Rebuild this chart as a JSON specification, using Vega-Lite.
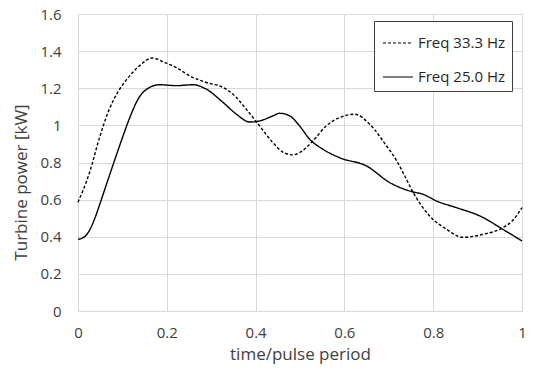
{
  "$schema": "https://vega.github.io/schema/vega-lite/v6.json",
  "width": 444,
  "height": 297,
  "autosize": "none",
  "padding": {"left": 78, "top": 14, "right": 11, "bottom": 62},
  "background": "white",
  "config": {
    "font": "Open Sans",
    "view": {"stroke": null},
    "axis": {
      "gridColor": "#d9d9d9",
      "gridWidth": 1,
      "domainColor": "#d9d9d9",
      "ticks": false,
      "labelColor": "#404040",
      "titleColor": "#404040",
      "labelFontSize": 15,
      "titleFontSize": 17,
      "titleFontWeight": "normal"
    }
  },
  "data": {
    "values": [
      {"t": 0, "p": 0.586, "s": "Freq 33.3 Hz"},
      {"t": 0.013, "p": 0.66, "s": "Freq 33.3 Hz"},
      {"t": 0.026, "p": 0.746, "s": "Freq 33.3 Hz"},
      {"t": 0.048, "p": 0.93, "s": "Freq 33.3 Hz"},
      {"t": 0.071, "p": 1.09, "s": "Freq 33.3 Hz"},
      {"t": 0.09, "p": 1.18, "s": "Freq 33.3 Hz"},
      {"t": 0.109, "p": 1.245, "s": "Freq 33.3 Hz"},
      {"t": 0.139, "p": 1.322, "s": "Freq 33.3 Hz"},
      {"t": 0.167, "p": 1.363, "s": "Freq 33.3 Hz"},
      {"t": 0.199, "p": 1.335, "s": "Freq 33.3 Hz"},
      {"t": 0.222, "p": 1.311, "s": "Freq 33.3 Hz"},
      {"t": 0.252, "p": 1.266, "s": "Freq 33.3 Hz"},
      {"t": 0.289, "p": 1.231, "s": "Freq 33.3 Hz"},
      {"t": 0.327, "p": 1.204, "s": "Freq 33.3 Hz"},
      {"t": 0.349, "p": 1.168, "s": "Freq 33.3 Hz"},
      {"t": 0.379, "p": 1.087, "s": "Freq 33.3 Hz"},
      {"t": 0.409, "p": 0.997, "s": "Freq 33.3 Hz"},
      {"t": 0.439, "p": 0.907, "s": "Freq 33.3 Hz"},
      {"t": 0.462, "p": 0.855, "s": "Freq 33.3 Hz"},
      {"t": 0.484, "p": 0.841, "s": "Freq 33.3 Hz"},
      {"t": 0.499, "p": 0.853, "s": "Freq 33.3 Hz"},
      {"t": 0.529, "p": 0.916, "s": "Freq 33.3 Hz"},
      {"t": 0.559, "p": 0.997, "s": "Freq 33.3 Hz"},
      {"t": 0.589, "p": 1.042, "s": "Freq 33.3 Hz"},
      {"t": 0.623, "p": 1.06, "s": "Freq 33.3 Hz"},
      {"t": 0.657, "p": 1.006, "s": "Freq 33.3 Hz"},
      {"t": 0.695, "p": 0.889, "s": "Freq 33.3 Hz"},
      {"t": 0.717, "p": 0.812, "s": "Freq 33.3 Hz"},
      {"t": 0.736, "p": 0.727, "s": "Freq 33.3 Hz"},
      {"t": 0.755, "p": 0.638, "s": "Freq 33.3 Hz"},
      {"t": 0.792, "p": 0.512, "s": "Freq 33.3 Hz"},
      {"t": 0.83, "p": 0.44, "s": "Freq 33.3 Hz"},
      {"t": 0.867, "p": 0.397, "s": "Freq 33.3 Hz"},
      {"t": 0.912, "p": 0.413, "s": "Freq 33.3 Hz"},
      {"t": 0.957, "p": 0.449, "s": "Freq 33.3 Hz"},
      {"t": 0.98, "p": 0.49, "s": "Freq 33.3 Hz"},
      {"t": 1.0, "p": 0.557, "s": "Freq 33.3 Hz"},
      {"t": 0, "p": 0.386, "s": "Freq 25.0 Hz"},
      {"t": 0.013, "p": 0.397, "s": "Freq 25.0 Hz"},
      {"t": 0.026, "p": 0.435, "s": "Freq 25.0 Hz"},
      {"t": 0.038, "p": 0.5, "s": "Freq 25.0 Hz"},
      {"t": 0.049, "p": 0.575, "s": "Freq 25.0 Hz"},
      {"t": 0.068, "p": 0.71, "s": "Freq 25.0 Hz"},
      {"t": 0.085, "p": 0.83, "s": "Freq 25.0 Hz"},
      {"t": 0.101, "p": 0.94, "s": "Freq 25.0 Hz"},
      {"t": 0.118, "p": 1.05, "s": "Freq 25.0 Hz"},
      {"t": 0.135, "p": 1.14, "s": "Freq 25.0 Hz"},
      {"t": 0.158, "p": 1.2, "s": "Freq 25.0 Hz"},
      {"t": 0.184, "p": 1.219, "s": "Freq 25.0 Hz"},
      {"t": 0.222, "p": 1.214, "s": "Freq 25.0 Hz"},
      {"t": 0.259, "p": 1.219, "s": "Freq 25.0 Hz"},
      {"t": 0.289, "p": 1.195, "s": "Freq 25.0 Hz"},
      {"t": 0.327, "p": 1.123, "s": "Freq 25.0 Hz"},
      {"t": 0.357, "p": 1.06, "s": "Freq 25.0 Hz"},
      {"t": 0.387, "p": 1.018, "s": "Freq 25.0 Hz"},
      {"t": 0.409, "p": 1.024, "s": "Freq 25.0 Hz"},
      {"t": 0.439, "p": 1.051, "s": "Freq 25.0 Hz"},
      {"t": 0.454, "p": 1.065, "s": "Freq 25.0 Hz"},
      {"t": 0.477, "p": 1.051, "s": "Freq 25.0 Hz"},
      {"t": 0.499, "p": 0.997, "s": "Freq 25.0 Hz"},
      {"t": 0.522, "p": 0.925, "s": "Freq 25.0 Hz"},
      {"t": 0.552, "p": 0.871, "s": "Freq 25.0 Hz"},
      {"t": 0.589, "p": 0.826, "s": "Freq 25.0 Hz"},
      {"t": 0.65, "p": 0.781, "s": "Freq 25.0 Hz"},
      {"t": 0.702, "p": 0.692, "s": "Freq 25.0 Hz"},
      {"t": 0.755, "p": 0.641, "s": "Freq 25.0 Hz"},
      {"t": 0.777, "p": 0.629, "s": "Freq 25.0 Hz"},
      {"t": 0.807, "p": 0.593, "s": "Freq 25.0 Hz"},
      {"t": 0.852, "p": 0.557, "s": "Freq 25.0 Hz"},
      {"t": 0.905, "p": 0.512, "s": "Freq 25.0 Hz"},
      {"t": 0.957, "p": 0.44, "s": "Freq 25.0 Hz"},
      {"t": 1.0, "p": 0.377, "s": "Freq 25.0 Hz"}
    ]
  },
  "mark": {"type": "line", "interpolate": "monotone", "color": "black", "strokeWidth": 1.4},
  "encoding": {
    "x": {
      "field": "t", "type": "quantitative",
      "scale": {"domain": [0, 1], "nice": false},
      "axis": {"values": [0, 0.2, 0.4, 0.6, 0.8, 1], "format": ".1~f", "title": "time/pulse period", "labelPadding": 14, "titlePadding": 6, "labelFlush": false}
    },
    "y": {
      "field": "p", "type": "quantitative",
      "scale": {"domain": [0, 1.6], "nice": false},
      "axis": {"values": [0, 0.2, 0.4, 0.6, 0.8, 1, 1.2, 1.4, 1.6], "format": ".1~f", "title": "Turbine power [kW]", "labelPadding": 17, "titlePadding": 9, "labelFlush": false, "titleY": 168}
    },
    "strokeDash": {
      "field": "s", "type": "nominal",
      "scale": {"domain": ["Freq 33.3 Hz", "Freq 25.0 Hz"], "range": [[3, 2], [1, 0]]},
      "legend": {
        "title": null,
        "orient": "none",
        "legendX": 296,
        "legendY": 7,
        "strokeColor": "#404040",
        "fillColor": "white",
        "padding": 6,
        "symbolType": "stroke",
        "symbolSize": 900,
        "symbolStrokeColor": "black",
        "symbolStrokeWidth": 1.2,
        "labelFontSize": 15,
        "labelColor": "#262626",
        "labelOffset": 4,
        "rowPadding": 10,
        "symbolOffset": 2
      }
    },
    "order": {"field": "t", "type": "quantitative"}
  }
}
